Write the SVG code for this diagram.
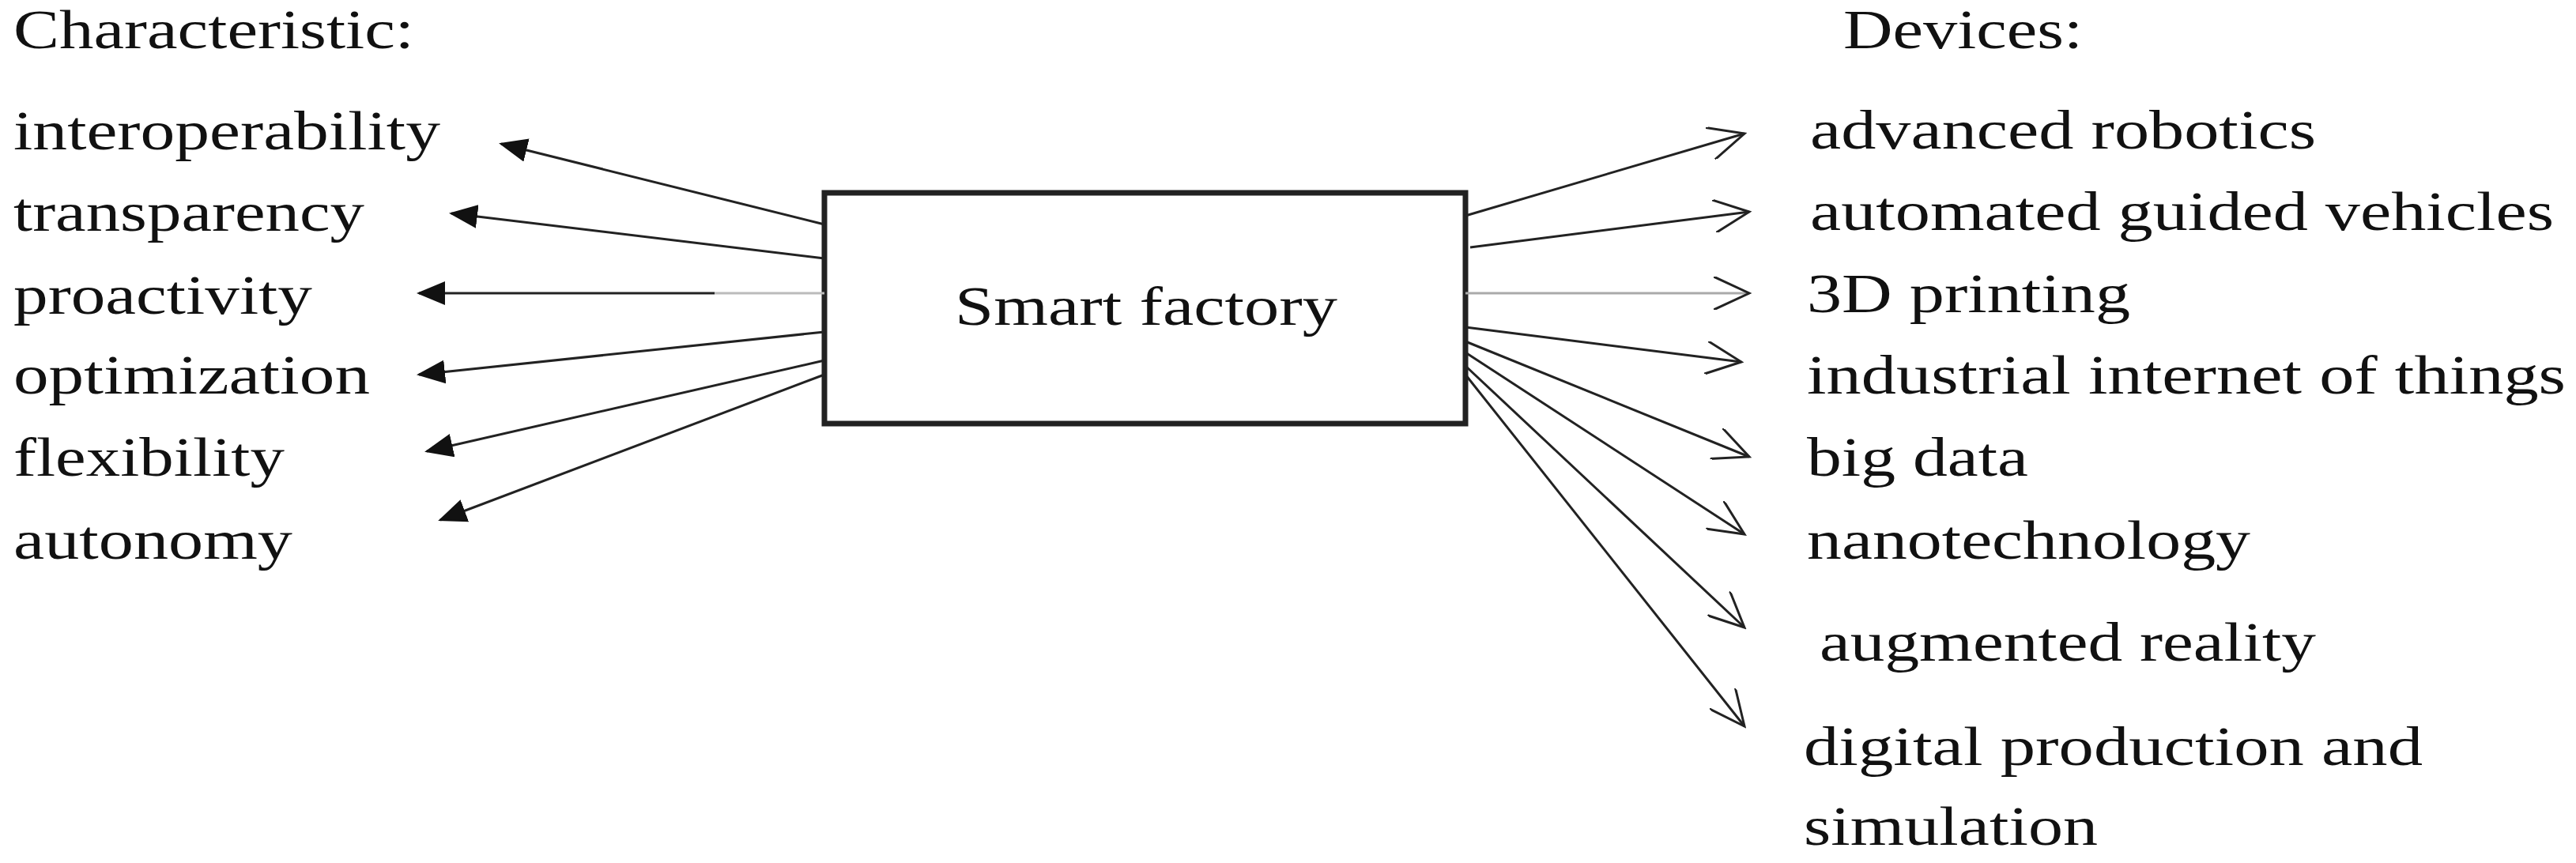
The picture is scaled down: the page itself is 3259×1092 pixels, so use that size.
<svg xmlns="http://www.w3.org/2000/svg" width="3259" height="1092" viewBox="0 0 3259 1092">
<style>
text{font-family:"Liberation Serif","Times New Roman",serif;font-size:70px;fill:#111}
.c line{stroke:#222;stroke-width:3}
.f{marker-end:url(#fill)}
.o{marker-end:url(#open)}
</style>
<defs>
<marker id="fill" viewBox="0 0 12 10" refX="11" refY="5" markerWidth="12" markerHeight="10" markerUnits="strokeWidth" orient="auto"><path d="M0,0 L12,5 L0,10 Z" fill="#111"/></marker>
<marker id="open" viewBox="0 0 16 14" refX="15" refY="7" markerWidth="16" markerHeight="14" markerUnits="strokeWidth" orient="auto"><path d="M0,0 L15,7 L0,14" fill="none" stroke="#222" stroke-width="1"/></marker>
</defs>
<rect width="3259" height="1092" fill="#fff"/>
<g id="smart-factory"><rect x="1043" y="244" width="811" height="292" fill="#fff" stroke="#222" stroke-width="7"/><text x="1450" y="411" text-anchor="middle" textLength="484" lengthAdjust="spacingAndGlyphs">Smart factory</text></g>
<g id="hdr-char"><text x="17" y="61" textLength="507" lengthAdjust="spacingAndGlyphs">Characteristic:</text></g>
<g id="hdr-dev"><text x="2332" y="61" textLength="303" lengthAdjust="spacingAndGlyphs">Devices:</text></g>
<g id="interoperability"><text x="17" y="189" textLength="540" lengthAdjust="spacingAndGlyphs">interoperability</text></g>
<g id="transparency"><text x="17" y="292" textLength="444" lengthAdjust="spacingAndGlyphs">transparency</text></g>
<g id="proactivity"><text x="17" y="397" textLength="378" lengthAdjust="spacingAndGlyphs">proactivity</text></g>
<g id="optimization"><text x="17" y="498" textLength="451" lengthAdjust="spacingAndGlyphs">optimization</text></g>
<g id="flexibility"><text x="17" y="602" textLength="343" lengthAdjust="spacingAndGlyphs">flexibility</text></g>
<g id="autonomy"><text x="17" y="707" textLength="353" lengthAdjust="spacingAndGlyphs">autonomy</text></g>
<g id="advanced-robotics"><text x="2290" y="188" textLength="640" lengthAdjust="spacingAndGlyphs">advanced robotics</text></g>
<g id="agv"><text x="2290" y="291" textLength="941" lengthAdjust="spacingAndGlyphs">automated guided vehicles</text></g>
<g id="printing"><text x="2286" y="395" textLength="409" lengthAdjust="spacingAndGlyphs">3D printing</text></g>
<g id="iiot"><text x="2286" y="498" textLength="960" lengthAdjust="spacingAndGlyphs">industrial internet of things</text></g>
<g id="big-data"><text x="2286" y="602" textLength="280" lengthAdjust="spacingAndGlyphs">big data</text></g>
<g id="nano"><text x="2286" y="707" textLength="561" lengthAdjust="spacingAndGlyphs">nanotechnology</text></g>
<g id="ar"><text x="2302" y="836" textLength="628" lengthAdjust="spacingAndGlyphs">augmented reality</text></g>
<g id="digital"><text x="2282" y="968" textLength="783" lengthAdjust="spacingAndGlyphs">digital production and</text><text x="2282" y="1069" textLength="372" lengthAdjust="spacingAndGlyphs">simulation</text></g>
<g id="connectors" class="c">
<line class="f" x1="1043" y1="284" x2="634" y2="182"/>
<line class="f" x1="1043" y1="327" x2="571" y2="270"/>
<line x1="1043" y1="371" x2="904" y2="371" style="stroke:#bbb"/>
<line class="f" x1="904" y1="371" x2="530" y2="371"/>
<line class="f" x1="1043" y1="420" x2="530" y2="474"/>
<line class="f" x1="1043" y1="456" x2="540" y2="571"/>
<line class="f" x1="1043" y1="474" x2="557" y2="658"/>
<line class="o" x1="1854" y1="273" x2="2207" y2="169"/>
<line class="o" x1="1860" y1="313" x2="2213" y2="268"/>
<line class="o" x1="1854" y1="371" x2="2213" y2="371" style="stroke:#aaa"/>
<line class="o" x1="1854" y1="414" x2="2203" y2="458"/>
<line class="o" x1="1854" y1="432" x2="2213" y2="578"/>
<line class="o" x1="1854" y1="446" x2="2207" y2="676"/>
<line class="o" x1="1854" y1="463" x2="2207" y2="794"/>
<line class="o" x1="1854" y1="474" x2="2207" y2="919"/>
</g>
</svg>
